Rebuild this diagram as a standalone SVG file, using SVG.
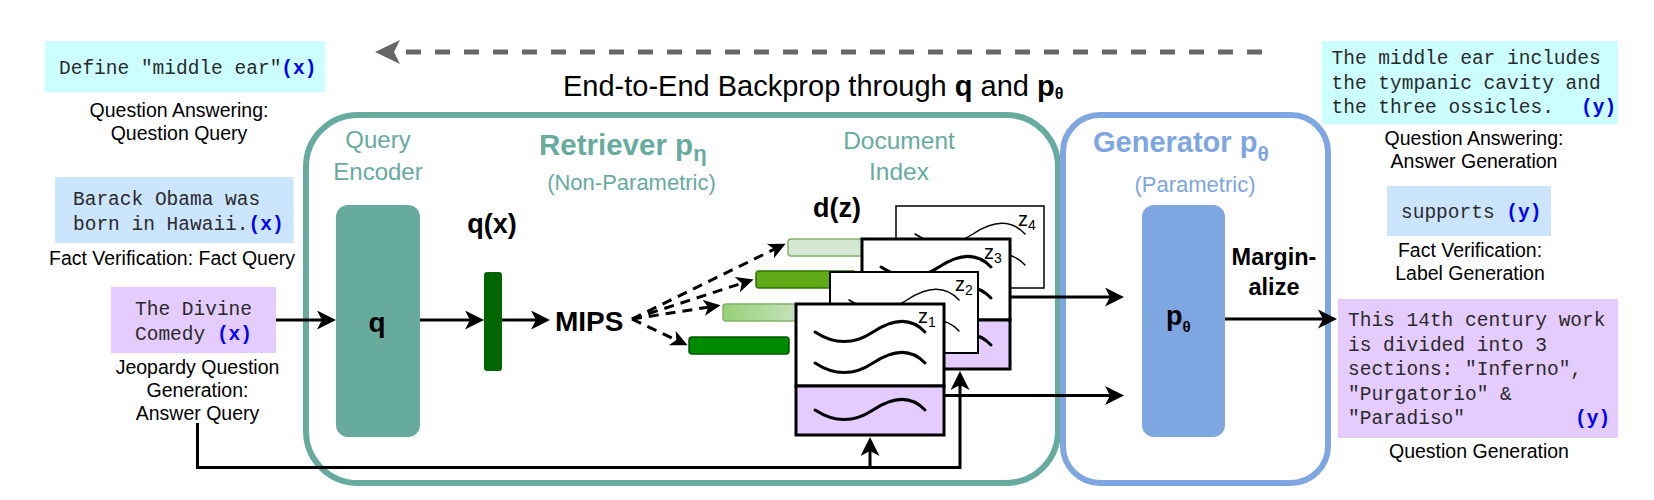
<svg xmlns="http://www.w3.org/2000/svg" width="1654" height="500" viewBox="0 0 1654 500">
<defs>
<style>
.lbl{font-family:"Liberation Sans",Arial,sans-serif;font-size:19.5px;fill:#000;text-anchor:middle}
.mono{font-family:"Liberation Mono","Courier New",monospace;font-size:19.5px;fill:#2a2a2a}
.xy{font-weight:bold;fill:#0000ff}
.teal{font-family:"Liberation Sans",Arial,sans-serif;fill:#67AB9F}
.blue{font-family:"Liberation Sans",Arial,sans-serif;fill:#7EA6E0}
.bold{font-family:"Liberation Sans",Arial,sans-serif;font-weight:bold;fill:#000}
.conn{stroke:#000;stroke-width:3;fill:none}
.dash{stroke:#000;stroke-width:3;fill:none;stroke-dasharray:10 7}
.card{fill:#fff;stroke:#000}
.purp{fill:#E5CCFF;stroke:#000}
.sq{fill:none;stroke:#000;stroke-linecap:round}
.zl{font-family:"Liberation Sans",Arial,sans-serif;font-size:20px;fill:#000}
</style>
<marker id="ah" markerUnits="userSpaceOnUse" markerWidth="20" markerHeight="20" refX="5" refY="9.5" orient="auto">
<path d="M0,0 L19,9.5 L0,19 L5,9.5 Z" fill="#000"/>
</marker>
<marker id="ahs" markerUnits="userSpaceOnUse" markerWidth="18" markerHeight="18" refX="4.5" refY="8" orient="auto">
<path d="M0,0 L17,8 L0,16 L4.5,8 Z" fill="#000"/>
</marker>
<marker id="ahg" markerUnits="userSpaceOnUse" markerWidth="26" markerHeight="26" refX="6" refY="12" orient="auto">
<path d="M0,0 L25,12 L0,24 L6,12 Z" fill="#666"/>
</marker>
<linearGradient id="g2" x1="0" y1="0" x2="1" y2="0">
<stop offset="0" stop-color="#97D077"/>
<stop offset="1" stop-color="#D5E8D4"/>
</linearGradient>
<path id="wave" d="M0,0 C20,13 40,12 58,0 S95,-16 110,0"/>
</defs>
<rect width="1654" height="500" fill="#fff"/>

<!-- containers -->
<g id="retriever">
<rect x="306" y="115" width="752" height="368" rx="52" fill="none" stroke="#67AB9F" stroke-width="6"/>
<text class="teal" x="539" y="155" font-size="29.5" font-weight="bold">Retriever p<tspan font-size="22" dy="6">η</tspan></text>
<text class="teal" x="631.5" y="190" font-size="22" text-anchor="middle">(Non-Parametric)</text>
</g>
<g id="generator">
<rect x="1063" y="115" width="265" height="368" rx="37" fill="none" stroke="#7EA6E0" stroke-width="6"/>
<text class="blue" x="1093" y="152" font-size="29" font-weight="bold">Generator p<tspan font-size="21" dy="9">θ</tspan></text>
<text class="blue" x="1195" y="192" font-size="22" text-anchor="middle">(Parametric)</text>
</g>

<!-- title -->
<g id="backprop">
<text font-family="Liberation Sans, Arial, sans-serif" font-size="29" x="563" y="96" fill="#000">End-to-End Backprop through <tspan font-weight="bold">q</tspan> and <tspan font-weight="bold">p</tspan><tspan font-weight="bold" font-size="16" dy="3">θ</tspan></text>
</g>

<!-- left inputs -->
<g id="input-qa">
<rect x="44.6" y="41" width="280.5" height="51" fill="#CCFFFF"/>
<text class="mono" x="59" y="74">Define "middle ear"<tspan class="xy">(x)</tspan></text>
<text class="lbl" x="179" y="117">Question Answering:</text>
<text class="lbl" x="179" y="140">Question Query</text>
</g>
<g id="input-fv">
<rect x="55" y="177" width="238.6" height="66" fill="#CCE5FF"/>
<text class="mono" x="73" y="205">Barack Obama was</text>
<text class="mono" x="73" y="230">born in Hawaii.<tspan class="xy">(x)</tspan></text>
<text class="lbl" x="172" y="265">Fact Verification: Fact Query</text>
</g>
<g id="input-jeopardy">
<rect x="111" y="287" width="165" height="66" fill="#E5CCFF"/>
<text class="mono" x="135" y="315">The Divine</text>
<text class="mono" x="135" y="340">Comedy <tspan class="xy">(x)</tspan></text>
<text class="lbl" x="197.5" y="374">Jeopardy Question</text>
<text class="lbl" x="197.5" y="397">Generation:</text>
<text class="lbl" x="197.5" y="420">Answer Query</text>
</g>

<!-- query encoder -->
<g id="query-encoder">
<text class="teal" x="378" y="148" font-size="24" text-anchor="middle">Query</text>
<text class="teal" x="378" y="180" font-size="24" text-anchor="middle">Encoder</text>
<rect x="336" y="205" width="84" height="232" rx="12" fill="#67AB9F"/>
<text class="bold" x="377" y="332" font-size="28" text-anchor="middle">q</text>
</g>
<g id="qx">
<text class="bold" x="492" y="233" font-size="27" text-anchor="middle">q(x)</text>
<rect x="484" y="272" width="18" height="99" rx="3" fill="#006600"/>
</g>
<g id="mips">
<text class="bold" x="555" y="331" font-size="28">MIPS</text>
</g>

<!-- document index -->
<g id="document-index">
<text class="teal" x="899" y="149" font-size="24.5" text-anchor="middle">Document</text>
<text class="teal" x="899" y="180" font-size="24.5" text-anchor="middle">Index</text>
<text class="bold" x="837" y="217" font-size="27" text-anchor="middle">d(z)</text>
<rect x="788" y="239" width="100" height="17" rx="3" fill="#D5E8D4" stroke="#82B366" stroke-width="1.5"/>
<rect x="756" y="271" width="100" height="17" rx="3" fill="#60A917" stroke="#2D7600" stroke-width="1.5"/>
<rect x="723" y="304" width="100" height="17" rx="3" fill="url(#g2)" stroke="#82B366" stroke-width="1.5"/>
<rect x="689" y="337" width="100" height="17" rx="3" fill="#008A00" stroke="#005700" stroke-width="1.5"/>
</g>
<g id="doc-z4">
<rect class="card" x="896" y="206" width="148" height="82" stroke-width="1.5"/>
<use href="#wave" class="sq" x="915" y="234" stroke-width="1.5"/>
<use href="#wave" class="sq" x="915" y="265" stroke-width="1.5"/>
<text class="zl" x="1018" y="226">z<tspan font-size="14" dy="4">4</tspan></text>
</g>
<g id="doc-z3">
<rect class="card" x="862" y="239" width="148" height="81" stroke-width="3"/>
<rect class="purp" x="862" y="320" width="148" height="49" stroke-width="3"/>
<use href="#wave" class="sq" x="881" y="267" stroke-width="3"/>
<use href="#wave" class="sq" x="881" y="298" stroke-width="3"/>
<use href="#wave" class="sq" x="881" y="345" stroke-width="3"/>
<text class="zl" x="984" y="259">z<tspan font-size="14" dy="4">3</tspan></text>
</g>
<g id="doc-z2">
<rect class="card" x="830" y="272" width="148" height="81" stroke-width="2"/>
<use href="#wave" class="sq" x="849" y="300" stroke-width="1.5"/>
<use href="#wave" class="sq" x="849" y="331" stroke-width="1.5"/>
<text class="zl" x="955" y="291">z<tspan font-size="14" dy="4">2</tspan></text>
</g>
<g id="doc-z1">
<rect class="card" x="796" y="304" width="148" height="82" stroke-width="3"/>
<rect class="purp" x="796" y="386" width="148" height="49" stroke-width="3"/>
<use href="#wave" class="sq" x="815" y="332" stroke-width="3"/>
<use href="#wave" class="sq" x="815" y="363" stroke-width="3"/>
<use href="#wave" class="sq" x="815" y="410" stroke-width="3"/>
<text class="zl" x="918" y="323">z<tspan font-size="14" dy="4">1</tspan></text>
</g>

<!-- generator internals -->
<g id="p-theta">
<rect x="1142" y="205" width="83" height="232" rx="12" fill="#7EA6E0"/>
<text class="bold" x="1166" y="325" font-size="27">p<tspan font-size="15" dy="7">θ</tspan></text>
</g>
<g id="marginalize">
<text class="bold" x="1274" y="265" font-size="23.5" text-anchor="middle">Margin-</text>
<text class="bold" x="1274" y="295" font-size="23.5" text-anchor="middle">alize</text>
</g>

<!-- outputs -->
<g id="output-qa">
<rect x="1322" y="41" width="296" height="83" fill="#CCFFFF"/>
<text class="mono" x="1331.5" y="64">The middle ear includes</text>
<text class="mono" x="1331.5" y="88.5">the tympanic cavity and</text>
<text class="mono" x="1331.5" y="113">the three ossicles.<tspan class="xy" x="1581">(y)</tspan></text>
<text class="lbl" x="1474" y="145">Question Answering:</text>
<text class="lbl" x="1474" y="168">Answer Generation</text>
</g>
<g id="output-fv">
<rect x="1387" y="186" width="164" height="50" fill="#CCE5FF"/>
<text class="mono" x="1401" y="218">supports <tspan class="xy">(y)</tspan></text>
<text class="lbl" x="1470" y="257">Fact Verification:</text>
<text class="lbl" x="1470" y="280">Label Generation</text>
</g>
<g id="output-jeopardy">
<rect x="1338" y="299" width="280" height="139" fill="#E5CCFF"/>
<text class="mono" x="1348" y="326">This 14th century work</text>
<text class="mono" x="1348" y="350.5">is divided into 3</text>
<text class="mono" x="1348" y="375">sections: "Inferno",</text>
<text class="mono" x="1348" y="399.5">"Purgatorio" &amp;</text>
<text class="mono" x="1348" y="424">"Paradiso"<tspan class="xy" x="1575">(y)</tspan></text>
<text class="lbl" x="1479" y="458">Question Generation</text>
</g>

<!-- connectors -->
<g id="connectors">
<line x1="1262" y1="52" x2="394" y2="52" stroke="#666" stroke-width="5" stroke-dasharray="15 14" marker-end="url(#ahg)"/>
<line class="conn" x1="276" y1="320" x2="322" y2="320" marker-end="url(#ah)"/>
<line class="conn" x1="420" y1="320" x2="470" y2="320" marker-end="url(#ah)"/>
<line class="conn" x1="502" y1="320" x2="536" y2="320" marker-end="url(#ah)"/>
<line class="dash" x1="632" y1="319" x2="774.4" y2="249.2" marker-end="url(#ahs)"/>
<line class="dash" x1="632" y1="319" x2="741.7" y2="283.3" marker-end="url(#ahs)"/>
<line class="dash" x1="632" y1="319" x2="708.2" y2="307.2" marker-end="url(#ahs)"/>
<line class="dash" x1="632" y1="319" x2="676.3" y2="340" marker-end="url(#ahs)"/>
<path class="conn" d="M197.5,423 V467.5 H960 V385" marker-end="url(#ah)"/>
<line class="conn" x1="870" y1="467.5" x2="870" y2="451" marker-end="url(#ah)"/>
<line class="conn" x1="1010" y1="297" x2="1110" y2="297" marker-end="url(#ah)"/>
<line class="conn" x1="944" y1="395.5" x2="1110" y2="395.5" marker-end="url(#ah)"/>
<line class="conn" x1="1225" y1="319" x2="1323" y2="319" marker-end="url(#ah)"/>
</g>
</svg>
